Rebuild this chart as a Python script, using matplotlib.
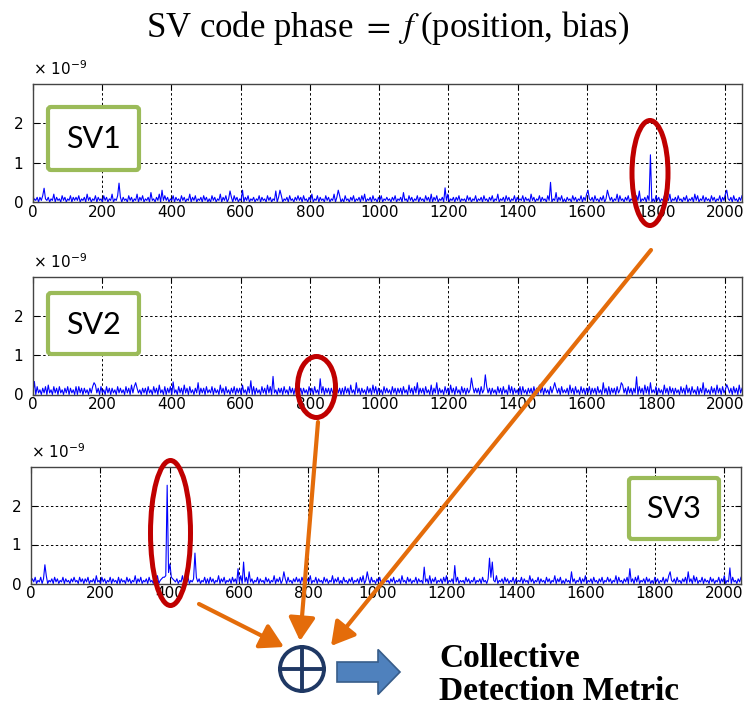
import numpy as np
import matplotlib.pyplot as plt
from matplotlib.patches import Ellipse, Circle, FancyArrow, FancyBboxPatch

plt.rcParams['mathtext.fontset'] = 'stix'

# noise floor, one digit = 0.04e-9, samples spread over 0..2048 chips
sv1_floor = ("02130314021302150312041302140313"
             "14021305130214031204130215021403"
             "03120413021503140213061203150214"
             "13021403120413021503140213041302"
             "04130215031402130413021503140213"
             "02140312041302170314021304120314"
             "13041203150214031204130215031402"
             "04120314021304150213041203140213"
             "12031402130612041302140312041305"
             "03140213041502130314021204130214"
             "02130412031402150213041302140312"
             "14031205130214031204130216031402"
             "03120413021403150213041203140214"
             "13021504120314021304170213041302"
             "04130214031502130412031402130514"
             "02140312041302140315021304120314")
sv2_floor = ("14051304150613051405130415041305"
             "05140413041506140513051404130514"
             "13051406150413041405130514061305"
             "04150413051406140513041504140513"
             "15041306140513041504140613051405"
             "04130514061504130414051305140413"
             "14041305140513061504140413051404"
             "05140613051404130514061504130514"
             "13051404140513061405130414051306"
             "04150413051406140513051404130514"
             "14051305140413051405130615041305"
             "05130414051406150413051404140513"
             "14061405130514041504140513061405"
             "04140513061405140413051406150413"
             "15041306140514041305140614051305"
             "04150413051406140513041405140614")
sv3_floor = ("13140214031502130413021403120314"
             "12041303140213051204130214031204"
             "03120413021503140213041203150234"
             "45675432130215031402130413021403"
             "04130215031402130413021503140213"
             "02140312041302150314021304120314"
             "13041203150214031204130215031402"
             "04120314021304150213041203140213"
             "12031402130512041302140312041305"
             "03140213041502130314021204130214"
             "02130412031402150213041302140312"
             "14031205130214031204130215031402"
             "03120413021403150213041203140214"
             "13021504120314021304150213041302"
             "04130214031502130412031402130514"
             "02140312041302140315021304120314")

# spikes: chip position, height (x 1e-9)
sv1_spike_x = [33, 249, 373, 568, 605, 713, 880, 1191, 1494, 1602, 1659, 1783, 2002]
sv1_spike_v = [0.35, 0.48, 0.30, 0.28, 0.30, 0.30, 0.30, 0.36, 0.50, 0.30, 0.30, 1.20, 0.30]
sv2_spike_x = [5, 176, 298, 404, 478, 631, 692, 829, 933, 1110, 1168, 1268, 1308,
               1506, 1647, 1698, 1744, 1785, 1936, 2005]
sv2_spike_v = [0.33, 0.30, 0.30, 0.32, 0.30, 0.35, 0.46, 0.40, 0.30, 0.30, 0.30, 0.42, 0.50,
               0.30, 0.30, 0.30, 0.45, 0.30, 0.30, 0.25]
sv3_spike_x = [39, 392, 400, 471, 596, 613, 628, 729, 970, 1135, 1224, 1321, 1329,
               1561, 1727, 1845, 1897, 2015]
sv3_spike_v = [0.48, 2.52, 0.50, 0.78, 0.38, 0.55, 0.30, 0.30, 0.30, 0.42, 0.46, 0.65, 0.55,
               0.30, 0.38, 0.30, 0.30, 0.40]

xticks = [0, 200, 400, 600, 800, 1000, 1200, 1400, 1600, 1800, 2000]
yticks = [0, 1, 2]


def build(floor, spike_x, spike_v):
    y = np.array([int(c) for c in floor]) * 0.04
    x = np.linspace(0, 2048, len(y))
    for sx, sv in zip(spike_x, spike_v):
        y[np.argmin(abs(x - sx))] = sv
    return x, y


fig = plt.figure(figsize=(7.48, 7.10), dpi=100)

panels = [
    (build(sv1_floor, sv1_spike_x, sv1_spike_v), [33 / 748, 1 - 202 / 710, 709 / 748, 118 / 710]),
    (build(sv2_floor, sv2_spike_x, sv2_spike_v), [33 / 748, 1 - 394.5 / 710, 709 / 748, 118 / 710]),
    (build(sv3_floor, sv3_spike_x, sv3_spike_v), [31 / 748, 1 - 583.5 / 710, 710 / 748, 117 / 710]),
]

for (x, y), pos in panels:
    ax = fig.add_axes(pos)
    ax.plot(x, y, color='#0000FF', lw=0.8)
    ax.set_xlim(0, 2048)
    ax.set_ylim(0, 3)
    ax.set_xticks(xticks)
    ax.set_yticks(yticks)
    ax.grid(True, color='k', linestyle=(0, (2.5, 2.5)), lw=0.7)
    ax.tick_params(direction='in', top=True, right=True, length=4,
                   labelsize=11, pad=2)
    ax.tick_params(axis='y', pad=7)
    for s in ax.spines.values():
        s.set_color('#444444')
        s.set_linewidth(1.0)
    ax.text(0, 1.05, u"\u00d7 10$^{-9}$", transform=ax.transAxes, fontsize=11,
            va='bottom', ha='left', math_fontfamily='dejavusans')

# overlay in pixel coordinates for the annotations
ov = fig.add_axes([0, 0, 1, 1])
ov.set_xlim(0, 748)
ov.set_ylim(710, 0)
ov.axis('off')
ov.set_zorder(10)

ov.text(388, 28, "SV code phase $=$ $f\\;$(position, bias)", ha='center', va='center',
        fontfamily='Liberation Serif', fontsize=25, math_fontfamily='stix')

green = '#9BBB59'
for (bx, by, bw, bh, lab) in [(48, 107, 91, 63, 'SV1'), (48, 293, 91, 61, 'SV2'),
                              (629, 478, 90, 61, 'SV3')]:
    ov.add_patch(FancyBboxPatch((bx, by), bw, bh, boxstyle='round,pad=0,rounding_size=3',
                                fc='white', ec=green, lw=3))
    ov.text(bx + bw / 2, by + bh / 2 + 1, lab, ha='center', va='center',
            fontfamily='Lato', fontsize=22)

red = '#C00000'
ov.add_patch(Ellipse((650, 173), 36, 105, fill=False, ec=red, lw=3.6))
ov.add_patch(Ellipse((316.5, 387), 38, 61, fill=False, ec=red, lw=3.6))
ov.add_patch(Ellipse((170.5, 533), 40, 145, fill=False, ec=red, lw=3.6))

orange = '#E46C0A'
for start, tip in [((651, 250), (331, 646)), ((318, 422), (300, 641)), ((199, 604), (284, 647))]:
    ov.annotate('', xy=tip, xytext=start,
                arrowprops=dict(arrowstyle='-|>,head_length=0.7,head_width=0.4',
                                color=orange, lw=3, mutation_scale=20,
                                shrinkA=0, shrinkB=0))

navy = '#1F3864'
ov.add_patch(Circle((302, 669), 22, fc='white', ec=navy, lw=2.8))
ov.plot([280, 324], [669, 669], color=navy, lw=2.8)
ov.plot([302, 302], [647, 691], color=navy, lw=2.8)

ov.add_patch(FancyArrow(337, 672, 63, 0, width=20, head_width=45, head_length=22,
                        length_includes_head=True, fc='#4F81BD', ec='#385D8A', lw=1.2))

ov.text(439, 643, "Collective\nDetection Metric", ha='left', va='top',
        fontfamily='Liberation Serif', fontweight='bold', fontsize=24, linespacing=1.1)

fig.savefig('out.png', dpi=100)
